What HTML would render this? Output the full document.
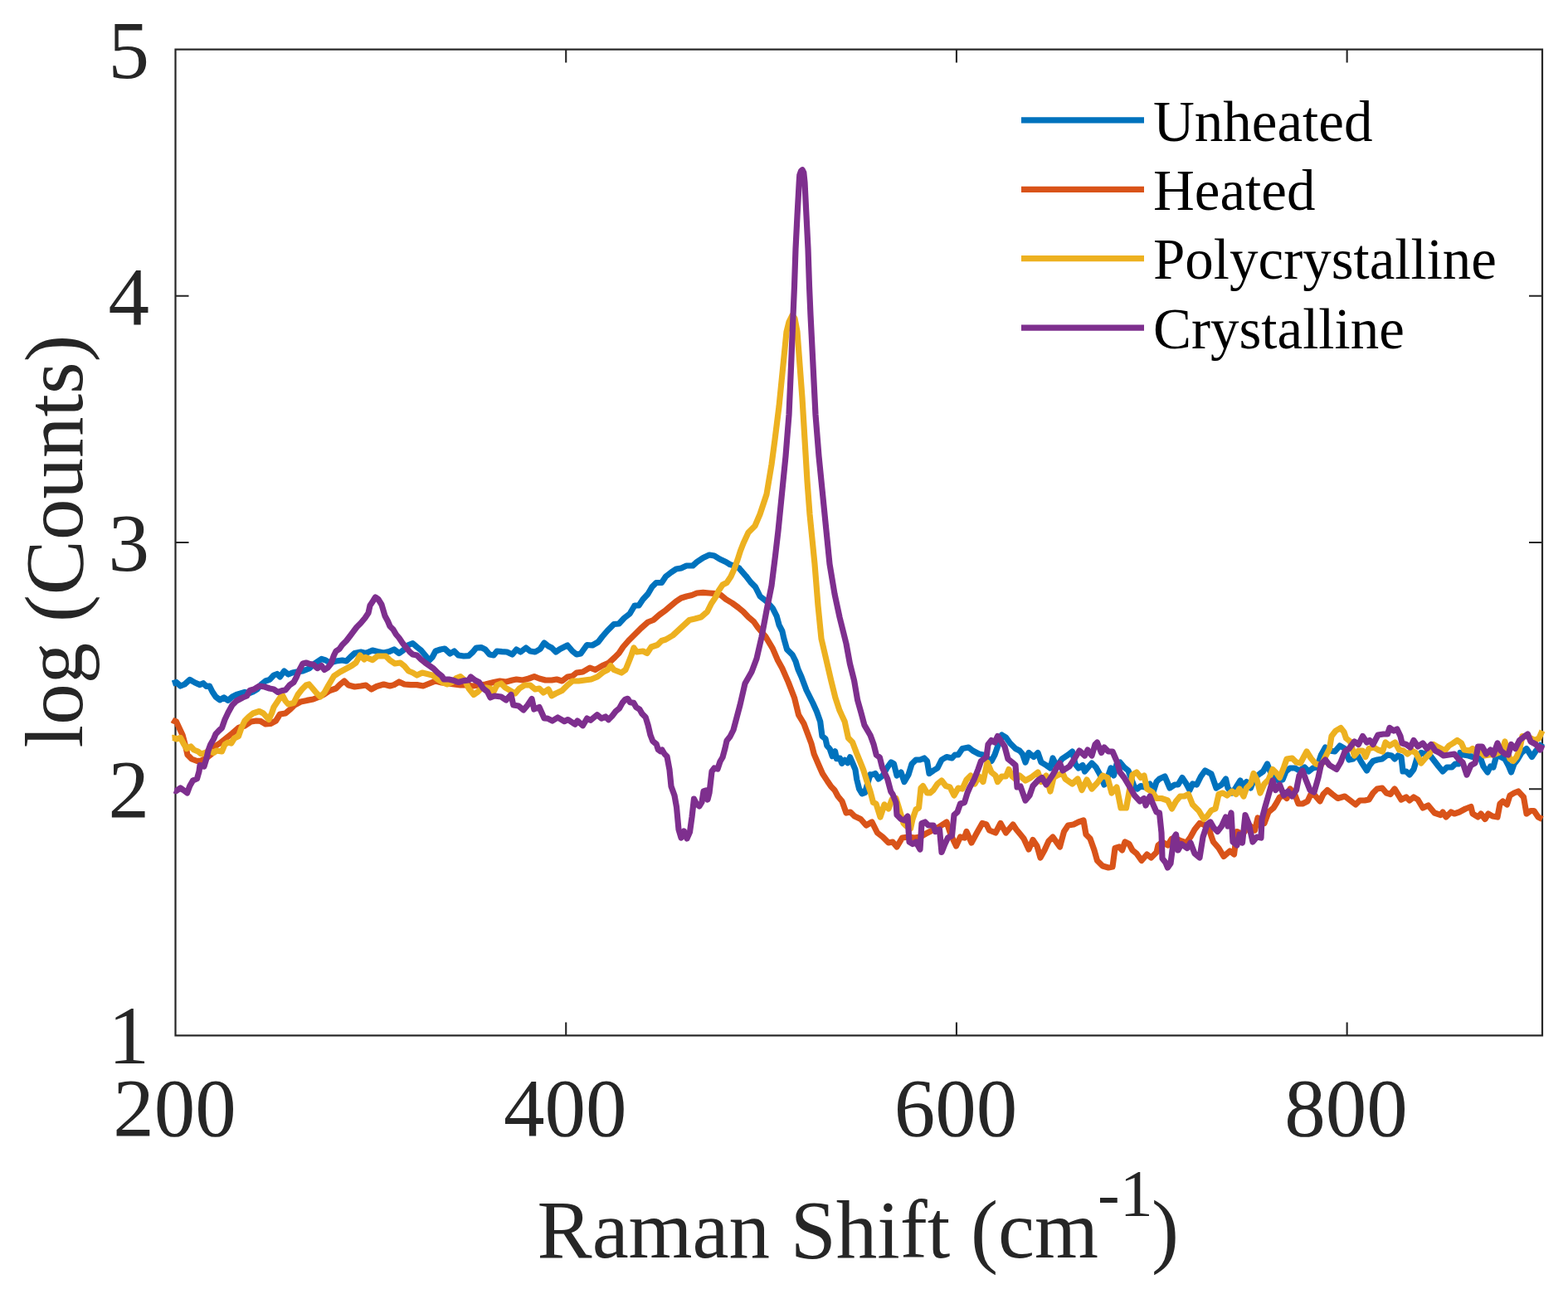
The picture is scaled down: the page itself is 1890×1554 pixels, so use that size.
<!DOCTYPE html>
<html><head><meta charset="utf-8"><title>Raman spectra</title>
<style>
html,body{margin:0;padding:0;background:#fff;overflow:hidden;}
svg{display:block;}
text{font-family:"Liberation Serif","Times New Roman",serif;}
</style></head><body>
<svg width="1890" height="1554" viewBox="0 0 1890 1554">
<rect x="0" y="0" width="1890" height="1554" fill="#fff"/>
<path d="M682.21 1248.40V1232.40M682.21 59.60V75.60M1152.93 1248.40V1232.40M1152.93 59.60V75.60M1623.64 1248.40V1232.40M1623.64 59.60V75.60M211.50 951.20H227.50M1859.00 951.20H1843.00M211.50 654.00H227.50M1859.00 654.00H1843.00M211.50 356.80H227.50M1859.00 356.80H1843.00" stroke="#262626" stroke-width="2.1" fill="none"/>
<rect x="211.5" y="59.6" width="1647.50" height="1188.80" fill="none" stroke="#262626" stroke-width="2.2"/>
<g fill="none" stroke-width="7.2" stroke-linejoin="round" stroke-linecap="butt">
<polyline stroke="#0072BD" points="208,824 208.75,823.75 212.5,822.5 217.5,827 222.5,825 228.75,819.4 235,823 241,825.6 245,823.75 248.75,827.5 252.5,827 256,834 260,840 265,843.75 270,841 275,844.4 280,840 285,837.5 290,836 295,834.4 300,836 305,834 310,831 315,825 320,821 325,819.4 330,814 334,812.5 337.5,816 342.5,809 347.5,813 352.5,811 357.5,810 365,809 372.5,806 380,799.4 387.5,794.4 392.5,796 397.5,799 405,797 412.5,796 417.5,797 422.5,792 427.5,787.5 435,786 441,787.5 449,784 455,785.6 462.5,787 469,785.6 475,783 481,787.5 486,784 492.5,777.5 497.5,775.6 502.5,780 507.5,784 512.5,790 517.5,796 521,792.5 525,785 531,783 536,782 542.5,788 547.5,785 552.5,790 559,791 565,790.6 570,786 574,781 580,780.6 585,783 590,789 595,790 599,785 605,785.6 611,786 617.5,789 622.5,783 627.5,786 634,781 639,785 645,786 651,782.5 656,775 661,779 665,781 670,786 675,782.5 684,778 690,785 695,789 700,788 707.5,777.5 714,778 721,774 726,767.5 732.5,760 740,752.5 746,752 752.5,745 759,740 765,730 770,730 775,722.5 781,716 786,707.5 791,702.5 797.5,702.5 802.5,695 809,690 815,686 821,685 827.5,682 835,682 840,677.5 847.5,672.5 855,669 861,670 867.5,674 875,677.5 880,680.6 885,682 891,685 891.4,685.7 899,694.3 904.8,701.9 910.5,707.6 916.2,719 923.8,724.8 931.4,733.3 936.2,742.9 939,753.3 942.9,761 944.8,769.5 948.6,782.9 955.2,789.5 959,797.1 961.9,806.7 966,816 972,832 980,848 984.5,858 988.7,870 989.8,878.7 991,887.4 995,890.8 996.8,899 1000.3,903 1003.2,911.7 1006.6,905.9 1008.4,914.6 1012.4,914 1014.7,920.4 1018.2,916.3 1021.7,919.8 1024.6,912.8 1028.1,921 1031,927.9 1032.7,939.5 1035.6,951.1 1039.1,956.9 1042.5,955.7 1048.9,933.7 1051,934 1055,932.5 1059,939 1064,935 1069,926 1074,919 1077.5,921 1081,935 1086,931 1090,942.5 1095,934 1099,921 1104,916 1109,916 1114,914 1117.5,917.5 1120,932.5 1125,929 1130,926 1135,916 1141,912.5 1147.5,914 1151,910 1155,910 1160,902.5 1167.5,901 1172.5,905 1180,909 1185,910 1190,914 1195,917.5 1199,910 1202.5,900 1207.5,886 1212.5,889 1217.5,896 1224,902.5 1229,905 1232.5,909 1236,919 1240,907.5 1246,912.5 1251,907.5 1255,919 1261,922.5 1266,926 1269,914 1274,924 1280,915 1287.5,910 1292.5,906 1296,921 1300,926 1305,922.5 1307.5,930 1312.5,924 1316,920 1321,925 1326,934 1331,946 1335,937.5 1339,926 1342.5,935 1346,921 1350,919 1355,925 1360,929 1362.5,936 1367.5,949 1371,951 1375,947.5 1380,949 1386,945 1390,955 1394,942.5 1397.5,939 1404,936 1410,950 1416,946 1420,946 1425,937.5 1430,945 1434,952.5 1437.5,945 1442.5,946 1447.5,936 1452.5,929 1460,933 1462.5,940 1466,950 1472.5,946 1477.5,939 1480,950 1485,956 1490,949 1495,941 1497.5,949 1502.5,942.5 1507.5,950 1512.5,937.5 1519,932.5 1522.5,930 1527.5,921 1531,930 1536,937.5 1541,941 1546,940 1550,930 1555,926 1561,926 1566,929 1572.5,925 1577.5,930 1582.5,926 1587.5,925 1592.5,910 1597.5,901 1602.5,905 1609,906 1615,899 1621,902.5 1626,916 1631,915 1636,910 1641,919 1647.5,929 1651,922.5 1655,917.5 1660,916 1666,915 1672.5,910 1677.5,911 1681,915 1685,911 1689,912.5 1691,930 1695,930 1699,934 1704,927.5 1708,914 1713,907.5 1718,909 1724,911 1729,917.5 1734,924 1739,930 1744,925 1750,925 1754,921 1758,921 1760,907.5 1764,910 1770,911 1775,912.5 1780,909 1784,912.5 1788,924 1793,931 1796.5,924 1800,925 1804,910 1809,912.5 1814,915 1818,922.5 1821.5,931 1825,921 1829,916 1834,907.5 1840,902.5 1846.5,912.5 1851.5,905 1856.5,900 1859,896"/>
<polyline stroke="#D95319" points="207.5,868 208.75,868.75 212.5,870 216,877.5 220,886 223.75,900 226,910 231,915 237.5,917.5 242.5,917 248.75,914 255,909 258.75,900 265,896 272.5,890 280,884 287.5,877.5 295,875 302.5,870 309,869 314,869.4 320,873 326,872.5 332.5,869 337.5,861 344,860 350,855 355,850 362.5,846 370,844.4 377.5,843 382.5,841 390,837.5 397.5,832.5 405,830 410,825 415,821 420,826 427.5,828 435,827 441,826 447.5,831 454,827.5 462.5,825 470,827 475,825.6 481,822 487.5,825 495,825.6 502.5,825.6 510,827 517.5,824 525,821 532.5,823 540,824 547.5,825 555,826 562.5,826 570,827 577.5,826 585,825 595,822.5 602.5,821 610,822 617.5,820 622.5,819 630,820 637.5,818 644,815.6 650,818 657.5,820 661,820 665,820 671,819 677.5,821 684,816 690,815 695,811 702.5,810 711,805 717.5,807.5 726,802.5 734,799 741,792.5 746,787.5 751,780 757.5,772.5 765,765 772.5,757.5 781,750 787.5,747.5 795,741 802.5,735.6 809,730 815,725 821,721 827.5,719 834,717.5 840,715 847.5,714.4 855,715 862.5,715.6 869,717.5 875,722.5 882.5,727 890,732.5 896,737.5 901.9,743.8 908.6,749.5 913.3,756.2 922.9,767.6 931.4,781.9 937.1,795.2 942.9,805.7 950.3,822.6 957.5,841.2 962.6,861.8 968.8,872.1 978.1,896.8 981.2,909.1 987.4,923.5 991.5,932.8 997.6,942.1 1001.8,948.2 1005.9,952.4 1010,960 1015,966 1020,980 1025,979 1030,984 1037.5,987.5 1044,995 1051,991 1057.5,1004 1064,1009 1071,1016 1076,1015 1081,1021 1087.5,1010 1095,1009 1102.5,1010 1109,1009 1116,1005 1124,1001 1131,997.5 1141,991 1146,1006 1152.5,1020 1157.5,1009 1162.5,1010 1165,1002.5 1171,1016 1177.5,1004 1184,992.5 1189,994 1192.5,1001 1200,1004 1206,992.5 1212.5,1004 1221,994 1225,1000 1230,1006 1234,1011 1240,1024 1245,1012.5 1250,1020 1254,1034 1259,1025 1264,1014 1269,1009 1277.5,1021 1282.5,1002.5 1287.5,995 1294,994 1300,991 1306,989 1309,1006 1314,1011 1319,1025 1322.5,1037.5 1329,1044 1336,1046 1341,1045 1344,1022.5 1349,1021 1352.5,1025 1356,1015 1361,1017.5 1365,1025 1370,1029 1376,1037.5 1382.5,1030 1387.5,1034 1394,1027.5 1396,1019 1401,1015 1407.5,1019 1412.5,1011 1417.5,1011 1424,1014 1430,1016 1435,1009 1440,1000 1446,992.5 1451,994 1457.5,1000 1460,1008 1462.5,1015 1469,1022.5 1475,1032.5 1482.5,1026 1487.5,1030 1491,1002.5 1497.5,1006 1506,995 1512.5,1001 1516,986 1524,992.5 1529,979 1535,974 1539,967.5 1542.5,961 1547.5,959 1551,962.5 1555,951 1560,956 1565,969 1570,969 1576,966 1580,957.5 1585,959 1591,966 1595,957.5 1600,952.5 1606,957.5 1612.5,962.5 1621,960 1627.5,965 1634,970 1639,965 1645,965 1650,964 1655,956 1660,951 1666,950 1671,956 1676,957.5 1681,951 1689,964 1695,961 1699,965 1704,961 1709,964 1715,974 1721.5,971 1729,980 1736.5,982.5 1739,979 1743,985 1749,979 1753,981 1759,979 1766.5,975 1773,972.5 1775,981 1781.5,985 1785,981 1790,987.5 1794,981 1799,984 1805,985 1808,969 1811.5,966 1816.5,970 1820,959 1825,956 1830,954 1836.5,961 1840,981 1845,977.5 1849,977.5 1854,985 1859,987.5"/>
<polyline stroke="#EDB120" points="207.5,889.5 208.75,889.4 212.5,891 217.5,889.4 221,896 225,902.5 230,900 233.75,904 238.75,906 242.5,909 247.5,907.5 252.5,905 257.5,907.5 261,905 267.5,906 271,897.5 275,895 278.75,896 282.5,890 287.5,887.5 291,877.5 295,869 300,864 305,860 312.5,857.5 317.5,860 324,867.5 327.5,860 330,852.5 335,845 340,837.5 344,845 347.5,849 354,847.5 359,837.5 364,831 369,826 372.5,825 376,829 381,835 386,840 391,835 396,826 402.5,815 410,810 417.5,806 424,802.5 429,799 434,790 439,795 441,792.5 449,795.6 455,791 465,791 470,796 476,800 482.5,799 487.5,803 492.5,809 497.5,811 502.5,814 509,811 515,812.5 521,814 527.5,819 534,823 539,825 545,822.5 550,817.5 555,815.6 560,820 565,830 571,837.5 576,834 581,829 586,829 591,830 595,834 599,826 604,824 609,829 615,832.5 621,836 626,830 632.5,826 639,826 645,831 650,830 655,835 661,831 665,838.75 670,836 677.5,832.5 684,826 690,821 697.5,821 705,820 712.5,819 720,816 727.5,810 732.5,807.5 736,802.5 740,807.5 749,811 754,807.5 757.5,799 761,790 764,781 767.5,786 775,785 780,787.5 785,780 792.5,777.5 797.5,772.5 802.5,771 811,766 817.5,760 824,754 831,747.5 837.5,746 845,744 852.5,737.5 857.5,727.5 862.5,720 866,712.5 871,705 876,702.5 881,695 885,686 889,675 892.5,664 896,655 902,642 910,634 916,620 924,596 930,560 934,530 939,490 944,440 948,400 951,388 955,380 958,384 961,400 964,440 967,480 970,530 973,580 976,620 979,650 982,680 986,730 990,770 1001.8,820.6 1006.9,841.2 1012,856.6 1018.2,870 1022.4,889.6 1027.5,894.7 1032.6,908.1 1036.8,918.4 1040.9,928.7 1045,942.1 1049.1,954.4 1052.5,967.5 1056,969 1061,985 1066,970 1071,975 1075,964 1080,962.5 1085,979 1089,992.5 1092.5,996 1097.5,999 1100,987.5 1104,976 1107.5,974 1110,950 1112.5,947.5 1117.5,956 1121,956 1125,952.5 1130,945 1135,941 1140,947.5 1145,949 1150,959 1155,950 1160,951 1165,940 1170,935 1175,945 1180,936 1185,942.5 1190,919 1195,931 1200,935 1202.5,942.5 1207.5,936 1212.5,936 1216,927.5 1220,936 1225,940 1229,935 1236,941 1242.5,937.5 1251,931 1255,942.5 1261,935 1266,954 1270,937.5 1276,934 1281,932.5 1284,939 1292.5,945 1299,939 1304,952.5 1310,940 1316,951 1322.5,944 1329,935 1335,937.5 1340,956 1346,949 1351,974 1357.5,974 1361,955 1365,934 1370,931 1375,937.5 1379,935 1382.5,951 1389,955 1394,962.5 1400,962.5 1407.5,965 1412.5,975 1417.5,966 1422.5,960 1427.5,960 1432.5,957.5 1437.5,970 1445,977.5 1451,987.5 1455,984 1460,977 1465,975 1469,957.5 1474,956 1479,959 1485,954 1490,957.5 1494,951 1499,960 1502.5,950 1507.5,945 1511,932.5 1515,940 1519,956 1524,945 1529,940 1534,927.5 1539,932.5 1542.5,937.5 1547.5,925 1551,915 1557.5,914 1562.5,919 1567.5,920 1575,906 1580,914 1586,921 1592.5,922.5 1597.5,912.5 1602.5,902.5 1605,887.5 1610,881 1616,877.5 1620,882.5 1622.5,890 1627.5,894 1632.5,911 1637.5,905 1642.5,905 1646,912.5 1650,902.5 1656,901 1661,904 1666.5,906 1670,895 1675,899 1681.5,895 1686.5,904 1691.5,905 1696.5,909 1701.5,905 1706.5,907.5 1713,920 1718,914 1723,909 1728,897.5 1734,901 1741.5,905 1746.5,899 1751.5,896 1756.5,892.5 1761.5,896 1765,904 1771.5,905 1775,902.5 1780,909 1784,906 1789,911 1795,910 1800,910 1806.5,907.5 1811.5,902.5 1814,894 1816.5,905 1820,915 1824,917.5 1828,912.5 1831.5,904 1835,887.5 1840,887.5 1845,890 1850,892.5 1855,890 1859,881"/>
<polyline stroke="#7E2F8E" points="210,953 212,953.75 217.5,950 221,952.5 225.6,956 228.75,947.5 232.5,941 237.5,938.75 240,930 241,922.5 246,924 248.75,915 251,905 253.75,897.5 257.5,891 260,885 263.75,881 267.5,877.5 271,867.5 275,859 280,850 285,845 292.5,841 297.5,839 301,832.5 306,831 312.5,827 319,828 325,830 330,831 335,834.4 340,832.5 344,832 349,826 354,822.5 357.5,816 361,807.5 365,800 369,799 374,800.6 377.5,801 382.5,805.6 387.5,802.5 391,807.5 395,805 399,800 402.5,790 405,785 409,782.5 412.5,777.5 417.5,772.5 422.5,766 430,756 435,751 440,745 444,739 446,730 450,724 452.5,720 456,722.5 460,729 464,742.5 467.5,749 470,755 474,759 477.5,765 481,769 485,775 489,780 494,786 497.5,789 502.5,790 507.5,795 512.5,799 517.5,802.5 522.5,806 527.5,811 532.5,815 535,819 541,819 547.5,820.6 552.5,822.5 559,820.6 565,820 567.5,816 572.5,820 577.5,822.5 582.5,830 587.5,834 591,841 596,839 604,840 610,844 616,837.5 618.75,850 625,851 631,856 636,850 641,842.5 643.75,855 650,852.5 656,866 660,866.1 665.8,869 672.3,865 680.2,869.7 684.5,867.6 693.2,873.3 696,869 702.5,874.8 707.6,866.1 711.9,868.3 719.8,861.8 724.9,866.1 729.9,864 733.5,867.6 737.8,863.2 742.2,857.5 746.5,853.9 750.1,847.4 753.7,843.1 756.6,842.3 759.5,846.7 763.8,847.4 766.7,852.4 771,855.3 773.9,860.4 778.2,864.7 781.1,874.1 784,886.3 786.8,893.5 791.2,897.1 793.3,903.6 796,905.8 798,904 801,909 804,912 807,928 809,948 813,959 815.5,973 818,1000 821,1010 824.5,1002 828,1011 831.5,1003 834,985 836.5,963 839.5,969 843,972 846,967 848,954 851,953 853,964 855,956 858,930 861,926 865,927 868,918 871,913 874,902 876,893 880,888 884,880 892,850 898,824 906,810 912,794 918,768 924,736 930,706 934.5,670 938,640 943,590 947,550 951,500 953.6,440 956,380 957.5,345 959,300 961,260 963.2,220 963.8,211 965.5,206.3 967.2,204.8 968.8,208 970,220 972,260 974,300 975.5,345 977,380 980,440 983,500 987,550 991,590 995,630 1000,680 1006,716 1012,744 1020,776 1024.4,800 1029.6,820.6 1033.7,844.3 1037.8,858.7 1041.9,874.1 1049.1,886.5 1053.2,897.8 1056.3,910.2 1060.4,913.2 1063.5,925.6 1069.7,939 1073.8,954.4 1076,957.5 1080,967.5 1081,982.5 1086,987.5 1090,989 1094,984 1096,1015 1100,1017.5 1104,1015 1109,1024 1111,992.5 1115,991 1119,995 1125,995 1127.5,1002.5 1132.5,1000 1135,1027.5 1139,1017.5 1142.5,1010 1147.5,1007.5 1150,982.5 1154,979 1157.5,969 1162.5,967.5 1166,956 1169,949 1174,940 1179,927.5 1182.5,917.5 1189,912.5 1191,897.5 1195,892.5 1199,895 1202.5,887.5 1206,892.5 1211,900 1215,915 1220,919 1224,922.5 1226,949 1230,948 1236,965 1241,959 1245,947.5 1251,941 1256,937.5 1261,946 1265,940 1269,934 1274,925 1277.5,920 1281,929 1289,924 1295,915 1301,905 1307.5,911 1311,904 1316,911 1320,897.5 1322.5,895 1327.5,907.5 1331,901 1336,906 1341,906 1346,917.5 1350,931 1355,937.5 1361,947.5 1367.5,959 1374,966 1379,962.5 1381,971 1386,960 1390,970 1394,979 1397.5,980 1400,1004 1401,1035 1405,1040 1407.5,1046 1411,1041 1415,1010 1417.5,1006 1420,1025 1424,1017.5 1431,1022.5 1435,1016 1440,1029 1446,1034 1450,1009 1455,994 1459,991 1463,998 1467.5,1002.5 1472.5,996 1477.5,985 1480,996 1484,980 1486,1015 1491,1019 1494,1006 1497.5,1016 1501,982.5 1505,992.5 1510,1015 1515,1009 1520,1010 1521,987.5 1525,972.5 1530,955 1534,941 1537.5,952.5 1542.5,946 1547.5,959 1552.5,954 1557.5,960 1562.5,952.5 1566,935 1570,929 1574,940 1579,952.5 1584,955 1589,937.5 1592.5,921 1597.5,916 1602.5,922.5 1611,927.5 1616,919 1621,906 1626,902.5 1632.5,894 1637.5,897.5 1642.5,887.5 1647.5,895 1651,892.5 1655,897.5 1661,886 1667.5,885 1672.5,885 1675,877.5 1680,881 1684,879 1688,887.5 1690,896 1695,897.5 1700,901 1704,892.5 1709,900 1715,896 1720,902.5 1725,897.5 1730,905 1735,907.5 1740,911 1746.5,910 1753,909 1758,915 1763,919 1768,934 1773,922.5 1778,920 1781.5,900 1786.5,900 1791.5,909 1796.5,904 1800,910 1805,896 1809,905 1814,909 1818,910 1821.5,897.5 1826.5,902.5 1831.5,892.5 1838,887.5 1841.5,885 1845,894 1851.5,897.5 1856.5,904 1859,898"/>
</g>
<g fill="#262626" font-size="99">
<text x="210.5" y="1368.7" text-anchor="middle">200</text>
<text x="681.2" y="1368.7" text-anchor="middle">400</text>
<text x="1151.9" y="1368.7" text-anchor="middle">600</text>
<text x="1622.6" y="1368.7" text-anchor="middle">800</text>
<text x="180" y="1282.4" text-anchor="end">1</text>
<text x="180" y="985.2" text-anchor="end">2</text>
<text x="180" y="688.0" text-anchor="end">3</text>
<text x="180" y="390.8" text-anchor="end">4</text>
<text x="180" y="93.6" text-anchor="end">5</text>
</g>
<text x="647.6" y="1516" font-size="99" fill="#262626">Raman Shift (cm</text>
<text x="1323" y="1466" font-size="80" fill="#262626">-1</text>
<text x="1388" y="1516" font-size="99" fill="#262626">)</text>
<text transform="translate(99,652.5) rotate(-90)" font-size="99" fill="#262626" text-anchor="middle">log (Counts)</text>
<line x1="1231" y1="144.9" x2="1379" y2="144.9" stroke="#0072BD" stroke-width="7.2"/>
<text x="1390" y="169.5" font-size="69" fill="#000">Unheated</text>
<line x1="1231" y1="228.3" x2="1379" y2="228.3" stroke="#D95319" stroke-width="7.2"/>
<text x="1390" y="252.9" font-size="69" fill="#000">Heated</text>
<line x1="1231" y1="311.7" x2="1379" y2="311.7" stroke="#EDB120" stroke-width="7.2"/>
<text x="1390" y="336.3" font-size="69" fill="#000">Polycrystalline</text>
<line x1="1231" y1="395.1" x2="1379" y2="395.1" stroke="#7E2F8E" stroke-width="7.2"/>
<text x="1390" y="419.7" font-size="69" fill="#000">Crystalline</text>
</svg>
</body></html>
